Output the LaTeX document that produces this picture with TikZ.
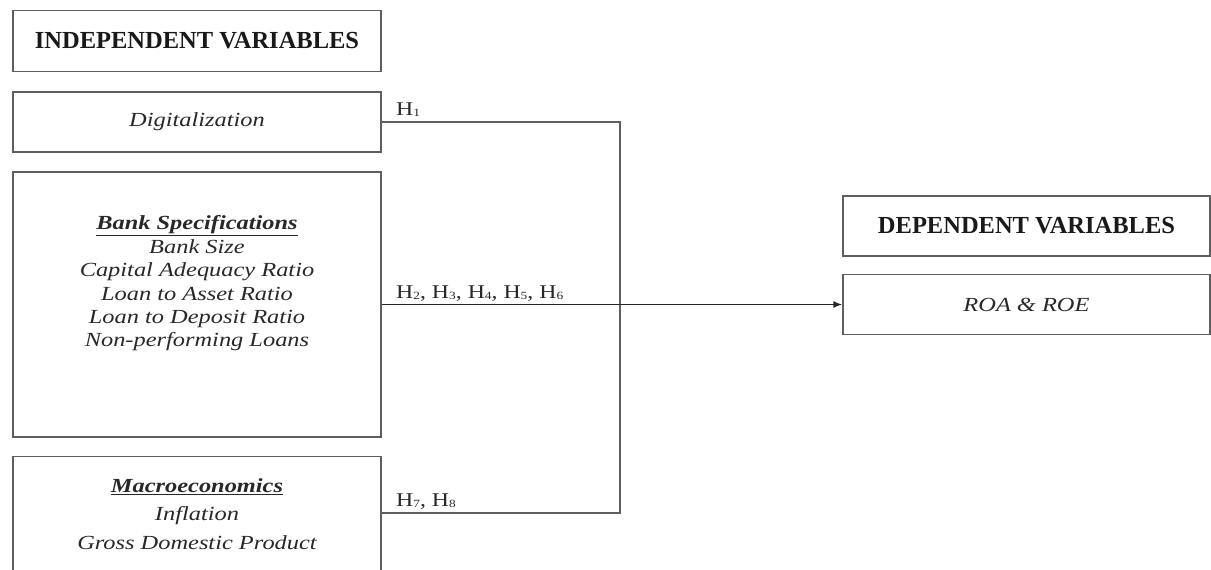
\documentclass[tikz,border=0pt]{standalone}
\usepackage{fontspec}
\setmainfont{Liberation Serif}
\newfontfamily\widefont[FakeStretch=1.22]{Liberation Serif}
\usetikzlibrary{arrows.meta}
\definecolor{boxgray}{RGB}{95,95,95}
\definecolor{txtgray}{RGB}{40,40,40}
\newcommand{\hs}[1]{\raisebox{-0.15ex}{\fontsize{11}{12}\selectfont #1}}
\begin{document}
\begin{tikzpicture}[x=1pt,y=-1pt,
  box/.style={draw=boxgray, line width=1.3pt, minimum width=368pt, inner sep=0pt},
  head/.style={font=\bfseries\fontsize{24.5}{28}\selectfont, text=black!90},
  ital/.style={font=\widefont\itshape\fontsize{20}{23.4}\selectfont, text=txtgray, align=center},
  hlab/.style={font=\widefont\fontsize{19.5}{22}\selectfont, text=txtgray, anchor=base west, inner sep=0pt},
  conn/.style={draw=boxgray, line width=1.5pt}]
\useasboundingbox (0,0) rectangle (1211,570);
\clip (0,0) rectangle (1211,570);
\node[box, minimum height=61pt, head] (iv) at (197,41) {INDEPENDENT VARIABLES};
\node[box, minimum height=60pt, ital] (dig) at (197,122) {Digitalization};
\node[box, minimum height=265pt] (bank) at (197,304.5) {};
\node[ital] (banktxt) at (197,283.5) {\textbf{\underline{Bank Specifications}}\\Bank Size\\Capital Adequacy Ratio\\Loan to Asset Ratio\\Loan to Deposit Ratio\\Non-performing Loans};
\node[box, minimum height=140pt, anchor=north] (macro) at (197,455.5) {};
\node[ital, font=\widefont\itshape\fontsize{20}{28.5}\selectfont] (macrotxt) at (197,514) {\textbf{\underline{Macroeconomics}}\\Inflation\\Gross Domestic Product};
\node[box, minimum width=367pt, minimum height=60pt, head] (dv) at (1026.5,226) {DEPENDENT VARIABLES};
\node[box, minimum width=367pt, minimum height=60pt, ital] (roa) at (1026.5,304.5) {ROA \& ROE};
\coordinate (jt) at (620,122);
\coordinate (jb) at (620,513);
\draw[conn] (dig.east) -- (jt) -- (jb) -- (jb -| macro.east);
\draw[conn, draw=black!85, line width=1.6pt, -{Latex[length=9pt,width=7pt]}] (bank.east) -- (roa.west);
\node[hlab] (h1) at (396,115) {H\hs{1}};
\node[hlab] (h26) at (396,298) {H\hs{2}, H\hs{3}, H\hs{4}, H\hs{5}, H\hs{6}};
\node[hlab] (h78) at (396,506) {H\hs{7}, H\hs{8}};
\end{tikzpicture}
\end{document}
